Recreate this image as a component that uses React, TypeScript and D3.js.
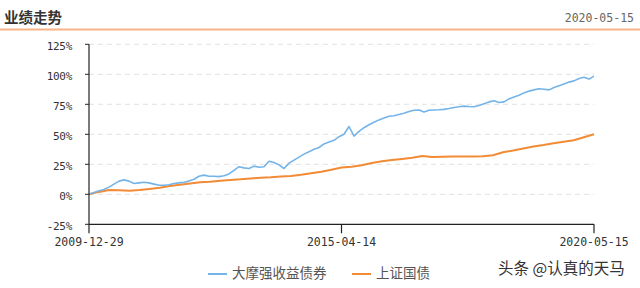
import React from "react";
import * as d3 from "d3";

const titleText = "业绩走势";
const dateText = "2020-05-15";
const seriesNames = ["大摩强收益债券", "上证国债"];
const xTickLabels = ["2009-12-29", "2015-04-14", "2020-05-15"];
const yTicks = [-25, 0, 25, 50, 75, 100, 125];
const watermark = "头条 @认真的天马";

// 大摩强收益债券 cumulative return (%), evenly spaced over the period
const fundValues = [
  0, 1.5, 3, 4, 6, 8.5, 11, 12, 11, 9, 9.5, 10, 9.5, 8.5, 7.5, 7.5, 8, 9, 9.5, 10,
  11, 12.5, 15, 16, 15, 15, 14.7, 15.5, 17, 20, 23, 22, 21.5, 23.5, 22.5, 23, 27.5,
  26.5, 24.5, 21.5, 26, 28.5, 31, 33.5, 35.5, 37.5, 39, 42, 43.5, 45, 48, 50, 56.5,
  48.5, 52.5, 55.5, 58, 60, 62, 63.5, 65, 65.5, 66.5, 67.5, 69, 70, 70.3, 68.5, 70,
  70.3, 70.5, 70.8, 71.5, 72.3, 73, 73.5, 73.2, 73, 74, 75.5, 77, 78, 76.5, 77, 79.5,
  81, 82.5, 84.5, 86, 87, 88, 87.5, 87, 89, 90.5, 92, 93.5, 94.5, 96.5, 97.5, 96, 98.5,
];

// 上证国债 cumulative return (%), evenly spaced over the period
const indexValues = [
  0, 2, 3.5, 3.3, 3, 3.5, 4.5, 5.5, 7, 8, 9, 10, 10.5, 11.3, 12, 12.5, 13.2, 13.8,
  14.2, 14.8, 15.3, 16.2, 17.5, 18.8, 20.5, 22.3, 23, 24.2, 26, 27.5, 28.5, 29.5, 30.5,
  31.9, 31, 31.2, 31.4, 31.4, 31.6, 31.8, 32.5, 35, 36.5, 38.2, 39.8, 41, 42.5, 43.8,
  45, 47.5, 50,
];

const colors = ["#74b4e9", "#f28b35"];

export default function App() {
  const W = 640;
  const H = 288;
  const plot = { left: 89, right: 594, top: 44.3, bottom: 224.3 };

  const x = d3.scaleLinear().domain([0, 1]).range([plot.left, plot.right]);
  const y = d3.scaleLinear().domain([-25, 125]).range([plot.bottom, plot.top]);

  const mkLine = (vals: number[]) =>
    d3
      .line<number>()
      .x((_, i) => x(i / (vals.length - 1)))
      .y((d) => y(d))(vals) || "";

  const xTickPos = xTickLabels.map((_, i) => i / (xTickLabels.length - 1));
  const mono = "'DejaVu Sans Mono', monospace";
  const cjk = "'Noto Sans CJK SC', 'Noto Sans', sans-serif";

  return (
    <svg
      width={W}
      height={H}
      style={{ position: "absolute", left: 0, top: 0, display: "block", background: "#fff" }}
    >
      <rect x={0} y={0} width={W} height={H} fill="#fff" />
      {/* header */}
      <text x={4} y={19} fontFamily={cjk} fontWeight={700} fontSize={14.5} fill="#333" dominantBaseline="middle">
        {titleText}
      </text>
      <text x={634} y={18} fontFamily={mono} fontSize={11.5} fill="#666" textAnchor="end" dominantBaseline="middle">
        {dateText}
      </text>
      <line x1={0} x2={W} y1={29.5} y2={29.5} stroke="#f7b488" strokeWidth={2.2} />

      {/* gridlines */}
      {yTicks
        .filter((t) => t > -25)
        .map((t) => (
          <line
            key={"g" + t}
            x1={plot.left}
            x2={plot.right}
            y1={y(t)}
            y2={y(t)}
            stroke="#e2e2e2"
            strokeWidth={1}
            strokeDasharray="5,4"
          />
        ))}

      {/* series */}
      <path d={mkLine(indexValues)} fill="none" stroke={colors[1]} strokeWidth={2} strokeLinejoin="round" />
      <path d={mkLine(fundValues)} fill="none" stroke={colors[0]} strokeWidth={1.6} strokeLinejoin="round" />

      {/* y axis */}
      <line x1={plot.left} x2={plot.left} y1={plot.top} y2={plot.bottom} stroke="#222" strokeWidth={1.2} />
      {yTicks.map((t) => (
        <g key={"y" + t}>
          <line x1={plot.left - 4} x2={plot.left} y1={y(t)} y2={y(t)} stroke="#222" strokeWidth={1} />
          <text
            x={72}
            y={y(t) + 2.5}
            fontFamily={mono}
            fontSize={11}
            fill="#333"
            textAnchor="end"
            dominantBaseline="middle"
            letterSpacing={-0.3}
          >
            {t + "%"}
          </text>
        </g>
      ))}

      {/* x axis */}
      <line x1={plot.left} x2={plot.right} y1={plot.bottom} y2={plot.bottom} stroke="#222" strokeWidth={1.2} />
      {xTickLabels.map((lab, i) => (
        <g key={"x" + i}>
          <line
            x1={x(xTickPos[i])}
            x2={x(xTickPos[i])}
            y1={plot.bottom}
            y2={plot.bottom + 9}
            stroke="#222"
            strokeWidth={1.2}
          />
          <text
            x={x(xTickPos[i])}
            y={242}
            fontFamily={mono}
            fontSize={11.5}
            fill="#333"
            textAnchor="middle"
            dominantBaseline="middle"
          >
            {lab}
          </text>
        </g>
      ))}

      {/* legend */}
      {seriesNames.map((name, i) => {
        const lx = i === 0 ? 208 : 352;
        return (
          <g key={"l" + i}>
            <line x1={lx} x2={lx + 19} y1={274} y2={274} stroke={colors[i]} strokeWidth={2} />
            <text x={lx + 24} y={274.5} fontFamily={cjk} fontSize={13.5} fill="#555" dominantBaseline="middle">
              {name}
            </text>
          </g>
        );
      })}

      {/* watermark */}
      <text x={498} y={270} fontFamily={cjk} fontSize={15.5} fill="#333" dominantBaseline="middle">
        {watermark}
      </text>
    </svg>
  );
}
